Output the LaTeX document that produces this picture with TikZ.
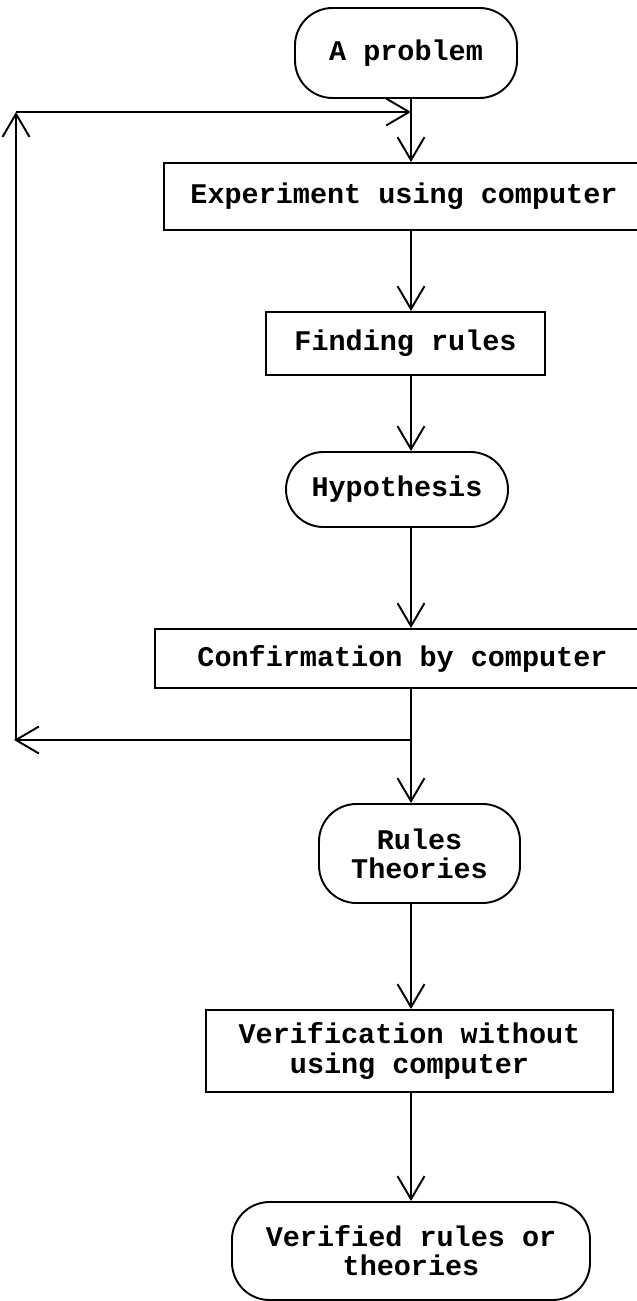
\documentclass[tikz,border=0pt]{standalone}
\usepackage{fontspec}
\setmonofont{Liberation Mono}
\usetikzlibrary{arrows.meta}

\begin{document}
\begin{tikzpicture}[>={Straight Barb[length=4.6mm,width=5.4mm]},line width=1.1pt]
  \tikzset{
    blob/.style={draw,rounded corners=7.5mm,align=center,inner sep=0pt},
    box/.style={draw,align=center,inner sep=0pt},
    flow/.style={->},
    every node/.style={font=\ttfamily\bfseries\fontsize{16.2}{16.6}\selectfont}
  }
  \useasboundingbox (0,0) rectangle (12.72,-26.02);

  \node[blob,minimum width=4.44cm,minimum height=1.8cm] (prob) at (8.12,-1.06) {A problem};
  \node[box,minimum width=9.6cm,minimum height=1.34cm] (exper) at (8.08,-3.93)
    {Experiment using computer};
  \node[box,minimum width=5.58cm,minimum height=1.26cm] (find) at (8.11,-6.87) {Finding rules};
  \node[blob,minimum width=4.44cm,minimum height=1.5cm] (hyp) at (7.94,-9.79) {Hypothesis};
  \node[box,minimum width=9.9cm,minimum height=1.18cm] (conf) at (8.05,-13.17)
    {Confirmation by computer};
  \node[blob,minimum width=4.02cm,minimum height=1.98cm] (rules) at (8.39,-17.07)
    {Rules\\Theories};
  \node[box,minimum width=8.14cm,minimum height=1.64cm] (verif) at (8.19,-21.02)
    {Verification without\\using computer};
  \node[blob,minimum width=7.16cm,minimum height=1.96cm] (vrfd) at (8.22,-25.02)
    {Verified rules or\\theories};

  % main line
  \coordinate (spine) at (8.22,0);
  \draw[flow] (prob.south -| spine) -- (exper.north -| spine);
  \draw[flow] (exper.south -| spine) -- (find.north -| spine);
  \draw[flow] (find.south -| spine) -- (hyp.north -| spine);
  \draw[flow] (hyp.south -| spine) -- (conf.north -| spine);
  \draw[flow] (conf.south -| spine) -- (rules.north -| spine);
  \draw[flow] (rules.south -| spine) -- (verif.north -| spine);
  \draw[flow] (verif.south -| spine) -- (vrfd.north -| spine);

  % loop back
  \coordinate (split) at (8.22,-14.8);
  \coordinate (lowleft) at (0.28,-14.8);
  \coordinate (upleft) at (0.32,-2.24);
  \coordinate (join) at (spine |- upleft);
  \draw[flow] (split) -- (lowleft);
  \draw[flow] (lowleft -| upleft) -- (upleft);
  \draw[flow] (upleft) -- (join);
\end{tikzpicture}
\end{document}
